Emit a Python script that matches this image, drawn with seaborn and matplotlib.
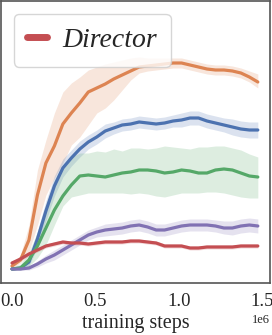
import numpy as np
import pandas as pd
import seaborn as sns
import matplotlib.pyplot as plt

sns.set_style('white')
plt.rcParams['font.family'] = ['Liberation Serif', 'DejaVu Serif']

# training steps grid (30 evaluation points)
steps = np.linspace(0, 1.475e6, 30)

# score (arbitrary units): mean, lower, upper
orange_mean = [17, 23, 43, 88, 120, 137, 159, 170, 180, 191, 195, 199, 204, 208, 212,
               216, 217, 218, 219, 220, 220, 218, 216, 214, 213, 213, 212, 210, 206, 201]
orange_lo = [15, 20, 31, 58, 88, 105, 120, 138, 146, 158, 170, 175, 183, 193, 203,
             210, 212, 213, 214, 215, 215, 213, 211, 209, 208, 208, 207, 205, 201, 195]
orange_hi = [19, 28, 58, 113, 143, 170, 191, 200, 206, 213, 216, 219, 221, 223, 225,
             226, 225, 225, 225, 225, 225, 223, 221, 219, 218, 218, 217, 215, 212, 209]

blue_mean = [14, 15, 21, 44, 72, 97, 115, 125, 134, 141, 146, 152, 155, 158, 159,
             161, 160, 159, 160, 162, 163, 165, 165, 162, 160, 158, 156, 154, 153, 153]
blue_lo = [13, 13, 17, 36, 62, 87, 106, 117, 126, 134, 139, 145, 149, 152, 153,
           155, 154, 153, 154, 156, 156, 158, 158, 155, 153, 151, 148, 146, 145, 145]
blue_hi = [15, 17, 25, 52, 82, 107, 124, 133, 142, 148, 153, 159, 161, 164, 165,
           167, 166, 165, 166, 168, 170, 172, 172, 169, 167, 165, 164, 162, 161, 161]

green_mean = [14, 15, 23, 37, 55, 73, 87, 98, 107, 108, 107, 106, 108, 110, 111,
              113, 113, 112, 110, 111, 113, 112, 110, 110, 113, 114, 113, 110, 107, 106]
green_lo = [13, 13, 17, 25, 38, 58, 77, 86, 88, 90, 90, 90, 90, 90, 89,
            90, 89, 87, 86, 88, 90, 90, 90, 91, 91, 90, 88, 86, 85, 85]
green_hi = [16, 19, 31, 51, 78, 103, 118, 126, 130, 130, 132, 131, 134, 132, 135,
            135, 134, 135, 137, 136, 135, 134, 136, 136, 137, 137, 135, 133, 129, 126]

purple_mean = [14, 14, 15, 19, 24, 28, 33, 38, 43, 48, 51, 53, 54, 55, 57,
               58, 56, 53, 53, 55, 57, 58, 58, 58, 57, 55, 55, 57, 58, 57]
purple_lo = [13, 13, 13, 16, 20, 23, 28, 33, 38, 43, 46, 47, 48, 49, 51,
             52, 50, 47, 47, 49, 51, 52, 52, 52, 51, 49, 48, 50, 51, 50]
purple_hi = [15, 15, 17, 22, 28, 33, 38, 43, 48, 53, 56, 59, 60, 61, 63,
             64, 62, 59, 59, 61, 63, 64, 64, 64, 63, 62, 62, 64, 65, 64]

director_mean = [20, 24, 29, 33, 37, 39, 41, 40, 40, 39, 40, 41, 41, 41, 42,
                 42, 41, 40, 37, 37, 37, 35, 35, 36, 36, 36, 36, 37, 37, 37]
director_lo = [18, 22, 27, 31, 35, 37, 39, 38, 38, 37, 38, 39, 39, 39, 40,
               40, 39, 38, 35, 35, 35, 33, 33, 34, 34, 34, 34, 35, 35, 35]
director_hi = [22, 26, 31, 35, 39, 41, 43, 42, 42, 41, 42, 43, 43, 43, 44,
               44, 43, 42, 39, 39, 39, 37, 37, 38, 38, 38, 38, 39, 39, 39]

pal = sns.color_palette('deep')
runs = [
    ('baseline_a', orange_mean, orange_lo, orange_hi, pal[1]),
    ('baseline_b', blue_mean, blue_lo, blue_hi, pal[0]),
    ('baseline_c', green_mean, green_lo, green_hi, pal[2]),
    ('baseline_d', purple_mean, purple_lo, purple_hi, pal[4]),
    ('Director', director_mean, director_lo, director_hi, pal[3]),
]

fig = plt.figure(figsize=(2.72, 3.35), dpi=100)
ax = fig.add_axes([1/272, 52/335, 269/272, 282/335])

for name, mean, lo, hi, col in runs:
    df = pd.DataFrame({'step': steps, 'score': mean})
    sns.lineplot(data=df, x='step', y='score', color=col, lw=2.3, ax=ax, label=name)
    ax.fill_between(steps, lo, hi, color=col, alpha=0.2, lw=0)

handles, labels = ax.get_legend_handles_labels()
i = labels.index('Director')
leg = ax.legend([handles[i]], ['Director'], loc='upper left',
                prop={'style': 'italic', 'size': 20}, handlelength=0.7,
                handletextpad=0.55, borderaxespad=0.45, borderpad=0.5,
                fancybox=True, edgecolor='#cccccc')
for h in leg.get_lines():
    h.set_linewidth(5)
    h.set_solid_capstyle('round')

ax.set_xlim(-0.066e6, 1.548e6)
ax.set_ylim(0, 282)
ax.set_xticks([0, 0.5e6, 1.0e6, 1.5e6])
ax.set_yticks([])
ax.set_ylabel('')
ax.set_xlabel('training steps', fontsize=14.5, labelpad=3)
ax.tick_params(axis='x', length=0, pad=7, labelsize=13.5)
ax.xaxis.get_offset_text().set_fontsize(9)
for s in ax.spines.values():
    s.set_color('#555555')
    s.set_linewidth(1.2)

fig.savefig('out.png', dpi=100)
